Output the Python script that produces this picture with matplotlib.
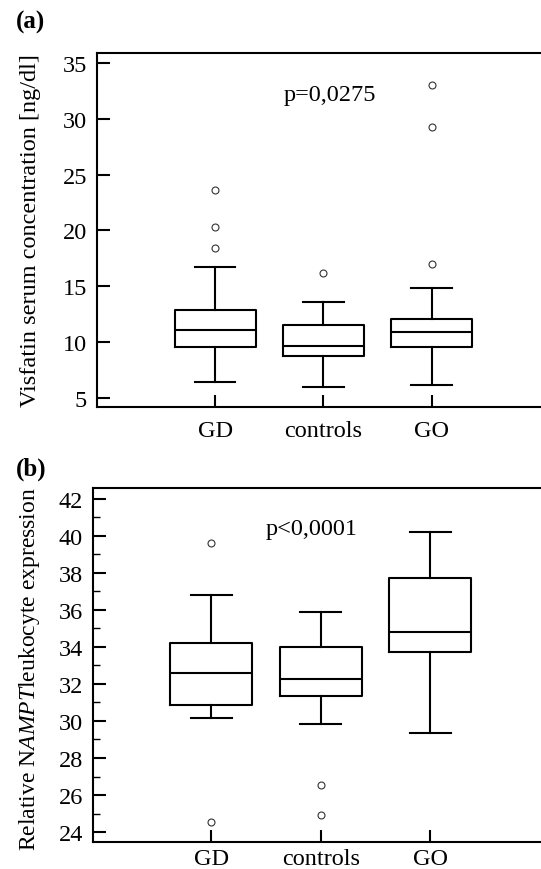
import matplotlib
matplotlib.use("Agg")
import matplotlib.pyplot as plt
from matplotlib.ticker import MultipleLocator

plt.rcParams["font.family"] = ["Liberation Serif", "DejaVu Serif"]
plt.rcParams["mathtext.fontset"] = "custom"
plt.rcParams["mathtext.rm"] = "Liberation Serif"
plt.rcParams["mathtext.it"] = "Liberation Serif:italic"

FS = 17.5
groups = ["GD", "controls", "GO"]

# (a) visfatin serum concentration [ng/dl]
a_whislo = [6.40, 5.96, 6.19]
a_q1 = [9.54, 8.73, 9.54]
a_med = [11.12, 9.63, 10.88]
a_q3 = [12.85, 11.56, 12.07]
a_whishi = [16.73, 13.62, 14.87]
a_fliers = [[23.65, 20.34, 18.43], [16.16], [33.02, 29.24, 16.97]]

# (b) relative NAMPT leukocyte expression
b_whislo = [30.18, 29.85, 29.34]
b_q1 = [30.88, 31.34, 33.75]
b_med = [32.61, 32.29, 34.81]
b_q3 = [34.20, 34.02, 37.75]
b_whishi = [36.83, 35.88, 40.23]
b_fliers = [[39.6, 24.52], [26.54, 24.94], []]


def stats(lo, q1, med, q3, hi, fl):
    return [dict(label=g, whislo=lo[i], q1=q1[i], med=med[i], q3=q3[i],
                 whishi=hi[i], fliers=fl[i]) for i, g in enumerate(groups)]


def draw(ax, st, pval, ptxt_xy, xpad):
    lw = 1.5
    ax.bxp(st, positions=[1, 2, 3], widths=0.75, showfliers=True,
           boxprops=dict(color="k", lw=lw), medianprops=dict(color="k", lw=lw),
           whiskerprops=dict(color="k", lw=lw), capprops=dict(color="k", lw=lw),
           flierprops=dict(marker="o", ms=5, mfc="none", mec="#333333", mew=0.8))
    for s in ["left", "bottom", "top"]:
        ax.spines[s].set_linewidth(1.5)
    ax.spines["right"].set_visible(False)
    ax.tick_params(axis="y", direction="in", length=9, width=1.5, labelsize=FS, pad=7)
    ax.tick_params(axis="x", direction="in", length=9, width=1.5, labelsize=FS, pad=xpad)
    ax.tick_params(axis="y", which="minor", direction="in", length=5, width=1.0)
    ax.set_xticks([1, 2, 3], groups)
    ax.text(ptxt_xy[0], ptxt_xy[1], pval, fontsize=FS, ha="center", va="center")


fig = plt.figure(figsize=(5.41, 8.70), dpi=100)

ax1 = fig.add_axes([0.179, 0.531, 0.83, 0.407])
draw(ax1, stats(a_whislo, a_q1, a_med, a_q3, a_whishi, a_fliers),
     "p=0,0275", (2.06, 32.2), 9)
ax1.set_xlim(-0.093, 4.056)
ax1.set_ylim(4.19, 35.9)
ax1.set_yticks([5, 10, 15, 20, 25, 30, 35])
ax1.set_ylabel("Visfatin serum concentration [ng/dl]", fontsize=FS)
ax1.yaxis.set_label_coords(-0.124, 0.5)

ax2 = fig.add_axes([0.171, 0.031, 0.84, 0.407])
draw(ax2, stats(b_whislo, b_q1, b_med, b_q3, b_whishi, b_fliers),
     "p<0,0001", (1.92, 40.4), 4)
ax2.set_xlim(-0.086, 4.065)
ax2.set_ylim(23.46, 42.59)
ax2.yaxis.set_major_locator(MultipleLocator(2))
ax2.yaxis.set_minor_locator(MultipleLocator(1))
ax2.set_ylabel(r"Relative N$\mathit{AMPT}$leukocyte expression", fontsize=17)
ax2.yaxis.set_label_coords(-0.112, 0.49)

fig.text(16 / 541, 1 - 11 / 870, "(a)", fontsize=18, fontweight="bold", va="top")
fig.text(16 / 541, 1 - 458 / 870, "(b)", fontsize=18, fontweight="bold", va="top")

fig.savefig("out.png", dpi=100)
